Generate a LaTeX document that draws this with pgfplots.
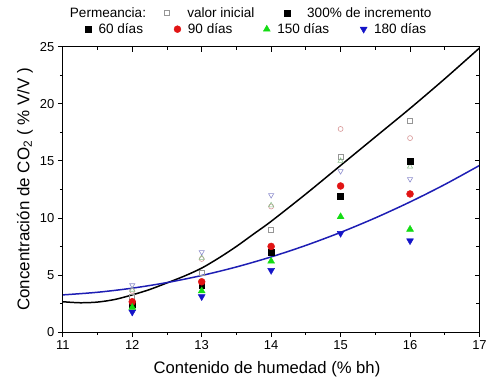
\documentclass[border=0pt]{standalone}
\usepackage{fontspec}
\setmainfont{Liberation Sans}
\usepackage{pgfplots}
\pgfplotsset{compat=1.18}
\definecolor{hsq}{RGB}{150,150,150}
\definecolor{hci}{RGB}{215,150,150}
\definecolor{htu}{RGB}{140,190,140}
\definecolor{htd}{RGB}{140,140,205}
\definecolor{myred}{RGB}{225,20,20}
\definecolor{mygreen}{RGB}{20,220,20}
\definecolor{myblue}{RGB}{20,20,200}
\definecolor{curveblue}{RGB}{30,30,180}
\begin{document}
\begin{tikzpicture}
\pgfplotsset{
  base/.style={
    scale only axis, width=418bp, height=286bp,
    xmin=11, xmax=17, ymin=0, ymax=25,
    xtick={11,...,17}, ytick={0,5,...,25},
    minor xtick={11.5,12.5,...,16.5}, minor ytick={2.5,7.5,...,22.5},
    major tick length=5bp, minor tick length=3bp,
    axis line style={line width=0.8bp},
    every tick/.style={black, line width=0.8bp},
    tick label style={font=\fontsize{13bp}{15bp}\selectfont},
    /pgf/number format/assume math mode=true,
    clip=false,
  }
}
\begin{axis}[base, name=main,
  tick pos=left, tick align=outside,
  xlabel={Contenido de humedad (\% bh)},
  ylabel={Concentración de CO\textsubscript{2} ( \% V/V )},
  every axis x label/.style={at={(axis description cs:0.49,-0.129)}, anchor=center, font=\fontsize{16.7bp}{20bp}\selectfont},
  every axis y label/.style={at={(axis description cs:-0.0909,0.5)}, rotate=90, anchor=center, font=\fontsize{17bp}{20bp}\selectfont},
  legend style={at={(0.04,1.062)}, anchor=west, draw=none, fill=none, inner sep=0pt,
    font=\fontsize{13.6bp}{16bp}\selectfont,
    nodes={inner sep=2bp},
    /tikz/every even column/.append style={column sep=24bp}},
  legend columns=4, legend cell align=left,
  legend image code/.code={\path[draw=none] (0bp,0bp) -- (17bp,0bp); \draw[#1] plot[only marks] coordinates {(8.5bp,0bp)};},
]
% hollow (initial values)
\addplot[forget plot, only marks, mark=square, mark size=2.5bp, draw=hsq, mark options={line width=0.6bp}] coordinates {(12,3.1) (13,5.2) (14,9.0) (15,15.4) (16,18.5)};
\addplot[forget plot, only marks, mark=o, mark size=2.5bp, draw=hci, mark options={line width=0.6bp}] coordinates {(12,3.6) (13,6.4) (14,11.0) (15,17.8) (16,17.0)};
\addplot[forget plot, only marks, mark=triangle, mark size=3bp, draw=htu, mark options={line width=0.6bp}] coordinates {(12,3.7) (13,6.5) (14,11.1) (15,15.0) (16,14.5)};
\addplot[forget plot, only marks, mark=triangle, mark size=3bp, draw=htd, mark options={line width=0.6bp, rotate=180}] coordinates {(12,4.1) (13,7.0) (14,12.0) (15,14.1) (16,13.4)};
% fitted curves
\addplot[forget plot, black, line width=1.5bp, smooth] coordinates {
(11,2.65) (11.25,2.56) (11.5,2.62) (11.75,2.85) (12,3.25) (12.25,3.72) (12.5,4.3) (12.75,4.9)
(13,5.6) (13.25,6.5) (13.5,7.5) (13.75,8.6) (14,9.7) (14.5,12.1) (15,14.6) (15.5,17.1)
(16,19.6) (16.5,22.2) (17,24.9)};
\addplot[forget plot, curveblue, line width=1.5bp, smooth] coordinates {
(11,3.25) (11.5,3.48) (12,3.84) (12.5,4.33) (13,4.95) (13.5,5.70) (14,6.58) (14.5,7.59)
(15,8.73) (15.5,10.0) (16,11.4) (16.5,12.93) (17,14.6)};
% filled series
\addplot[only marks, mark=square*, mark size=3bp, black] coordinates {(12,2.4) (13,4.1) (14,7.0) (15,11.9) (16,15.0)};
\addlegendentry{60 días}
\addplot[only marks, mark=*, mark size=3.5bp, myred, mark options={draw=myred, fill=myred}] coordinates {(12,2.65) (13,4.4) (14,7.5) (15,12.8) (16,12.1)};
\addlegendentry{90 días}
\addplot[only marks, mark=triangle*, mark size=4bp, mygreen, mark options={draw=mygreen, fill=mygreen}] coordinates {(12,2.15) (13,3.6) (14,6.2) (15,10.1) (16,9.0)};
\addlegendentry{150 días}
\addplot[only marks, mark=triangle*, mark size=4bp, myblue, mark options={draw=myblue, fill=myblue, rotate=180}] coordinates {(12,1.75) (13,3.1) (14,5.4) (15,8.65) (16,8.0)};
\addlegendentry{180 días}
\node[anchor=west, inner sep=0pt, font=\fontsize{13.6bp}{16bp}\selectfont] at (rel axis cs:0.0167,1.119) {Permeancia:};
\end{axis}
\begin{axis}[base, at={(main.south west)}, anchor=south west,
  tick pos=right, tick align=inside,
  xticklabels={}, yticklabels={},
  legend style={at={(0.205,1.119)}, anchor=west, draw=none, fill=none, inner sep=0pt,
    font=\fontsize{13.6bp}{16bp}\selectfont,
    nodes={inner sep=2bp},
    /tikz/every even column/.append style={column sep=12bp}},
  legend columns=2, legend cell align=left,
  legend image code/.code={\path[draw=none] (0bp,0bp) -- (37bp,0bp); \draw[#1] plot[only marks] coordinates {(18.5bp,0bp)};},
]
\addlegendimage{only marks, mark=square, mark size=2.2bp, draw=hsq, mark options={line width=0.6bp}}
\addlegendentry{valor inicial}
\addlegendimage{only marks, mark=square*, mark size=3bp, black}
\addlegendentry{300\% de incremento}
\end{axis}
\path ([shift={(-63bp,-49bp)}]main.south west) rectangle ([shift={(9bp,47bp)}]main.north east);
\end{tikzpicture}
\end{document}
